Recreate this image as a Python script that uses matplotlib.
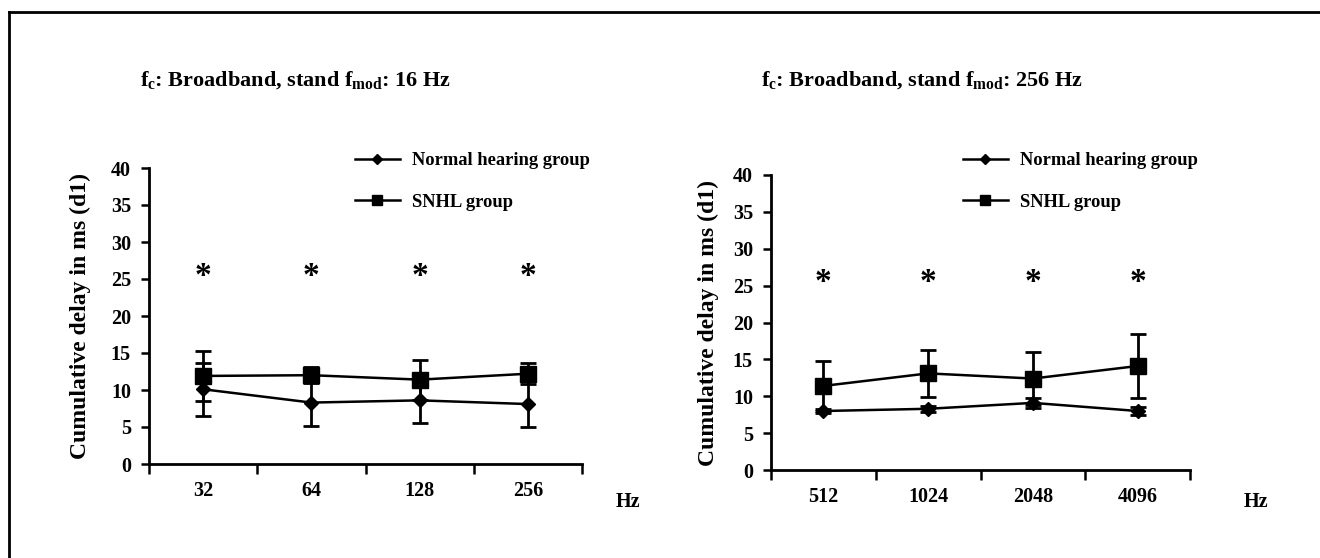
import matplotlib.pyplot as plt
from matplotlib.lines import Line2D

plt.rcParams['font.family'] = 'Liberation Serif'
plt.rcParams['font.weight'] = 'bold'
plt.rcParams['mathtext.fontset'] = 'custom'
plt.rcParams['mathtext.rm'] = 'Liberation Serif:bold'
plt.rcParams['mathtext.bf'] = 'Liberation Serif:bold'
plt.rcParams['mathtext.it'] = 'Liberation Serif:bold'

# Datos
freq_izq = ['32', '64', '128', '256']
normal_izq = [10.1, 8.3, 8.6, 8.1]
normal_izq_err = [3.6, 3.2, 3.0, 3.1]
snhl_izq = [11.9, 12.0, 11.4, 12.2]
snhl_izq_err = [3.4, 1.1, 2.7, 1.4]

freq_der = ['512', '1024', '2048', '4096']
normal_der = [8.0, 8.3, 9.1, 8.0]
normal_der_err = [0.3, 0.4, 0.7, 0.6]
snhl_der = [11.4, 13.1, 12.4, 14.1]
snhl_der_err = [3.4, 3.2, 3.6, 4.4]

asterisco_y = 25.4
titulos = [r'f$_{c}$: Broadband, stand f$_{mod}$: 16 Hz',
           r'f$_{c}$: Broadband, stand f$_{mod}$: 256 Hz']

W, H = 1320, 558
fig = plt.figure(figsize=(W / 100, H / 100), dpi=100)

# Marco exterior
fig.add_artist(Line2D([9 / W, 1], [1 - 12 / H, 1 - 12 / H], color='black', lw=2))
fig.add_artist(Line2D([9 / W, 9 / W], [0, 1 - 12 / H], color='black', lw=2))


def f_panel(rect, freqs, normal, normal_err, snhl, snhl_err, titulo, leg_xy, hz_xy, title_xy, ylab_x):
    ax = fig.add_axes(rect)
    x = [i + 0.5 for i in range(len(freqs))]

    ax.errorbar(x, snhl, yerr=snhl_err, color='black', lw=1.8, marker='s', ms=11,
                capsize=6, capthick=2, elinewidth=2, zorder=3)
    ax.errorbar(x, normal, yerr=normal_err, color='black', lw=1.8, marker='D', ms=7.5,
                capsize=6, capthick=2, elinewidth=2, zorder=4)

    for xi in x:
        ax.text(xi, asterisco_y, '*', ha='center', va='center', fontsize=24)

    ax.set_xlim(0, 4)
    ax.set_ylim(0, 40)
    ax.set_yticks(range(0, 41, 5))
    ax.set_xticks(range(0, 5))
    ax.set_xticklabels([])
    ax.set_xticks(x, minor=True)
    ax.set_xticklabels(freqs, minor=True)
    ax.tick_params(axis='x', which='major', direction='out', length=7, width=1.8)
    ax.tick_params(axis='x', which='minor', length=0, pad=12, labelsize=14.5)
    ax.tick_params(axis='y', direction='out', length=6, width=1.8, pad=7, labelsize=14.5)
    for s in ['top', 'right']:
        ax.spines[s].set_visible(False)
    for s in ['left', 'bottom']:
        ax.spines[s].set_linewidth(2)

    fig.text(ylab_x, rect[1] + rect[3] / 2, 'Cumulative delay in ms (d1)', rotation=90,
             ha='center', va='center', fontsize=17)
    fig.text(hz_xy[0], hz_xy[1], 'Hz', ha='center', va='center', fontsize=14.5)
    fig.text(title_xy[0], title_xy[1], titulo, ha='left', va='center', fontsize=16)

    handles = [Line2D([], [], color='black', lw=1.8, marker='D', ms=5.5),
               Line2D([], [], color='black', lw=1.8, marker='s', ms=6.5)]
    fig.legend(handles, ['Normal hearing group', 'SNHL group'], loc='upper left',
               bbox_to_anchor=leg_xy, frameon=False, fontsize=13.3, handlelength=2.43,
               handletextpad=0.65, labelspacing=1.35, borderpad=0, borderaxespad=0)
    return ax


f_panel([149 / W, 1 - 464 / H, 433 / W, 296 / H], freq_izq, normal_izq, normal_izq_err,
        snhl_izq, snhl_izq_err, titulos[0], (355 / W, 1 - 152 / H), (628 / W, 1 - 502 / H),
        (140 / W, 1 - 80 / H), 80 / W)
f_panel([771 / W, 1 - 470 / H, 419 / W, 295 / H], freq_der, normal_der, normal_der_err,
        snhl_der, snhl_der_err, titulos[1], (963 / W, 1 - 152 / H), (1256 / W, 1 - 502 / H),
        (761 / W, 1 - 80 / H), 708 / W)

fig.savefig('out.png', dpi=100)
